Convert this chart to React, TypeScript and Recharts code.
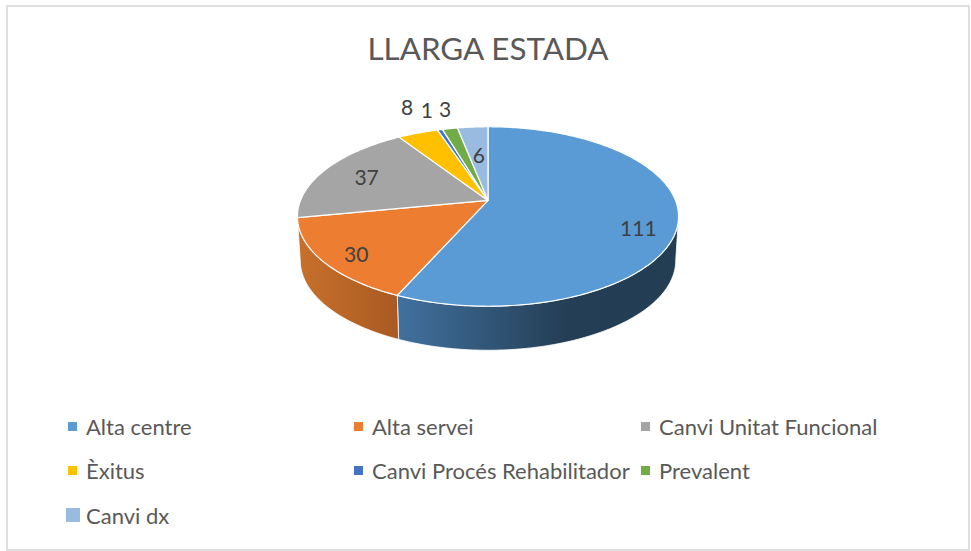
import { PieChart, Pie, Legend } from 'recharts';

const categories = ['Alta centre', 'Alta servei', 'Canvi Unitat Funcional', 'Èxitus', 'Canvi Procés Rehabilitador', 'Prevalent', 'Canvi dx'];
const values = [111, 30, 37, 8, 1, 3, 6];
const colors = ['#5B9BD5', '#ED7D31', '#A5A5A5', '#FFC000', '#4472C4', '#70AD47', '#9ABBE0'];
const wallFills = ['url(#wallBlue)', 'url(#wallOrange)', 'none', 'none', 'none', 'none', 'none'];

// label placement: fraction of the radius, then a small nudge in px
const labelRadius = [0.78, 0.8, 0.72, 1.15, 1.15, 1.15, 0.5];
const labelNudge = [[3, 13], [-3, 5], [-3, -1], [-2, -18], [-7, -11], [0, -11], [-1, -6]];

const pieData = categories.map((name, i) => ({ name, value: values[i], fill: colors[i] }));
const wallData = categories.map((name, i) => ({ name, value: values[i], fill: wallFills[i] }));

const FONT = 'Lato, sans-serif';
const RAD = Math.PI / 180;

// perspective of the tilted disc
const PERSP = 0.1788;
const TILT = 0.4786;
const APEX = 0.0856;
const DEPTH = 44;
const BOTTOM_SCALE = 0.985;
const EDGE = Math.asin(PERSP) / RAD;

function project(cx: number, cy: number, r: number, deg: number, frac = 1) {
  const u = Math.cos(deg * RAD) * frac;
  const v = Math.sin(deg * RAD) * frac;
  const d = 1 + PERSP * v;
  return { x: cx + (r * u) / d, y: cy - (r * TILT * v + r * APEX) / d };
}

function arcPoints(cx: number, cy: number, r: number, from: number, to: number) {
  const steps = Math.max(2, Math.ceil(Math.abs(to - from)));
  const pts = [];
  for (let i = 0; i <= steps; i++) pts.push(project(cx, cy, r, from + ((to - from) * i) / steps));
  return pts;
}

function TopSlice(props: any) {
  const { cx, cy, outerRadius, startAngle, endAngle, fill } = props;
  const apex = project(cx, cy, outerRadius, 0, 0);
  const pts = arcPoints(cx, cy, outerRadius, startAngle, endAngle);
  const d = `M${apex.x},${apex.y} ` + pts.map((p) => `L${p.x},${p.y}`).join(' ') + ' Z';
  return <path d={d} fill={fill} stroke="#fff" strokeWidth={1.2} strokeLinejoin="round" />;
}

function WallSlice(props: any) {
  const { cx, cy, outerRadius, startAngle, endAngle, fill } = props;
  // only the front part of the rim is visible
  const from = Math.min(startAngle, -EDGE);
  const to = Math.max(endAngle, -180 + EDGE);
  if (from <= to || fill === 'none') return <g />;
  const top = arcPoints(cx, cy, outerRadius, from, to);
  const bottom = top
    .map((p) => ({ x: cx + (p.x - cx) * BOTTOM_SCALE, y: p.y + DEPTH }))
    .reverse();
  const d = [...top, ...bottom].map((p, i) => `${i ? 'L' : 'M'}${p.x},${p.y}`).join(' ') + ' Z';
  return <path d={d} fill={fill} stroke="#fff" strokeWidth={0.8} />;
}

function renderLabel(props: any) {
  const { cx, cy, outerRadius, midAngle, index } = props;
  const p = project(cx, cy, outerRadius, midAngle, labelRadius[index]);
  return (
    <text
      x={p.x + labelNudge[index][0]}
      y={p.y + labelNudge[index][1]}
      textAnchor="middle"
      dominantBaseline="central"
      fill="#404040"
      fontSize={21}
      fontFamily={FONT}
    >
      {values[index]}
    </text>
  );
}

function renderLegend(props: any) {
  const items = (props.payload || []).filter((it: any) => it.type !== 'none');
  return (
    <div style={{ display: 'grid', gridTemplateColumns: '286px 287px 300px', gridAutoRows: '44.5px', alignItems: 'center', fontFamily: FONT, fontSize: 22, color: '#595959' }}>
      {items.map((it: any, i: number) => {
        const size = i === 6 ? 14 : 9;
        return (
          <div key={i} style={{ display: 'flex', alignItems: 'center', whiteSpace: 'nowrap' }}>
            <span style={{ width: 20, flex: 'none' }}>
              <span style={{ display: 'block', width: size, height: size, marginLeft: i === 6 ? 0 : 2, background: it.color }} />
            </span>
            {it.value}
          </div>
        );
      })}
    </div>
  );
}

export default function App() {
  return (
    <div style={{ position: 'absolute', left: 0, top: 0, width: 971, height: 551, background: '#fff', overflow: 'hidden' }}>
      <div style={{ position: 'absolute', left: 6, top: 5, width: 960, height: 542, border: '2px solid #dedede' }} />
      <div style={{ position: 'absolute', left: 0, top: 29, width: 976, textAlign: 'center', fontFamily: FONT, fontSize: 31.4, color: '#595959' }}>
        LLARGA ESTADA
      </div>
      <PieChart width={971} height={551} margin={{ top: 0, right: 0, bottom: 0, left: 0 }} style={{ position: 'absolute', left: 0, top: 0 }}>
        <defs>
          <linearGradient id="wallBlue" x1="0" y1="0" x2="1" y2="0">
            <stop offset="0" stopColor="#41719F" />
            <stop offset="0.6" stopColor="#243E55" />
            <stop offset="1" stopColor="#233D53" />
          </linearGradient>
          <linearGradient id="wallOrange" x1="0" y1="0" x2="1" y2="0">
            <stop offset="0" stopColor="#C8702C" />
            <stop offset="1" stopColor="#A95A22" />
          </linearGradient>
        </defs>
        <Pie
          data={wallData}
          dataKey="value"
          nameKey="name"
          cx={488}
          cy={216.5}
          outerRadius={187.5}
          startAngle={90}
          endAngle={-270}
          legendType="none"
          shape={WallSlice}
          isAnimationActive={false}
        />
        <Pie
          data={pieData}
          dataKey="value"
          nameKey="name"
          cx={488}
          cy={216.5}
          outerRadius={187.5}
          startAngle={90}
          endAngle={-270}
          shape={TopSlice}
          label={renderLabel}
          labelLine={false}
          isAnimationActive={false}
        />
        <Legend
          content={renderLegend}
          itemSorter={null}
          layout="vertical"
          wrapperStyle={{ position: 'absolute', left: 66, top: 404, width: 880, bottom: 'auto' }}
        />
      </PieChart>
    </div>
  );
}
